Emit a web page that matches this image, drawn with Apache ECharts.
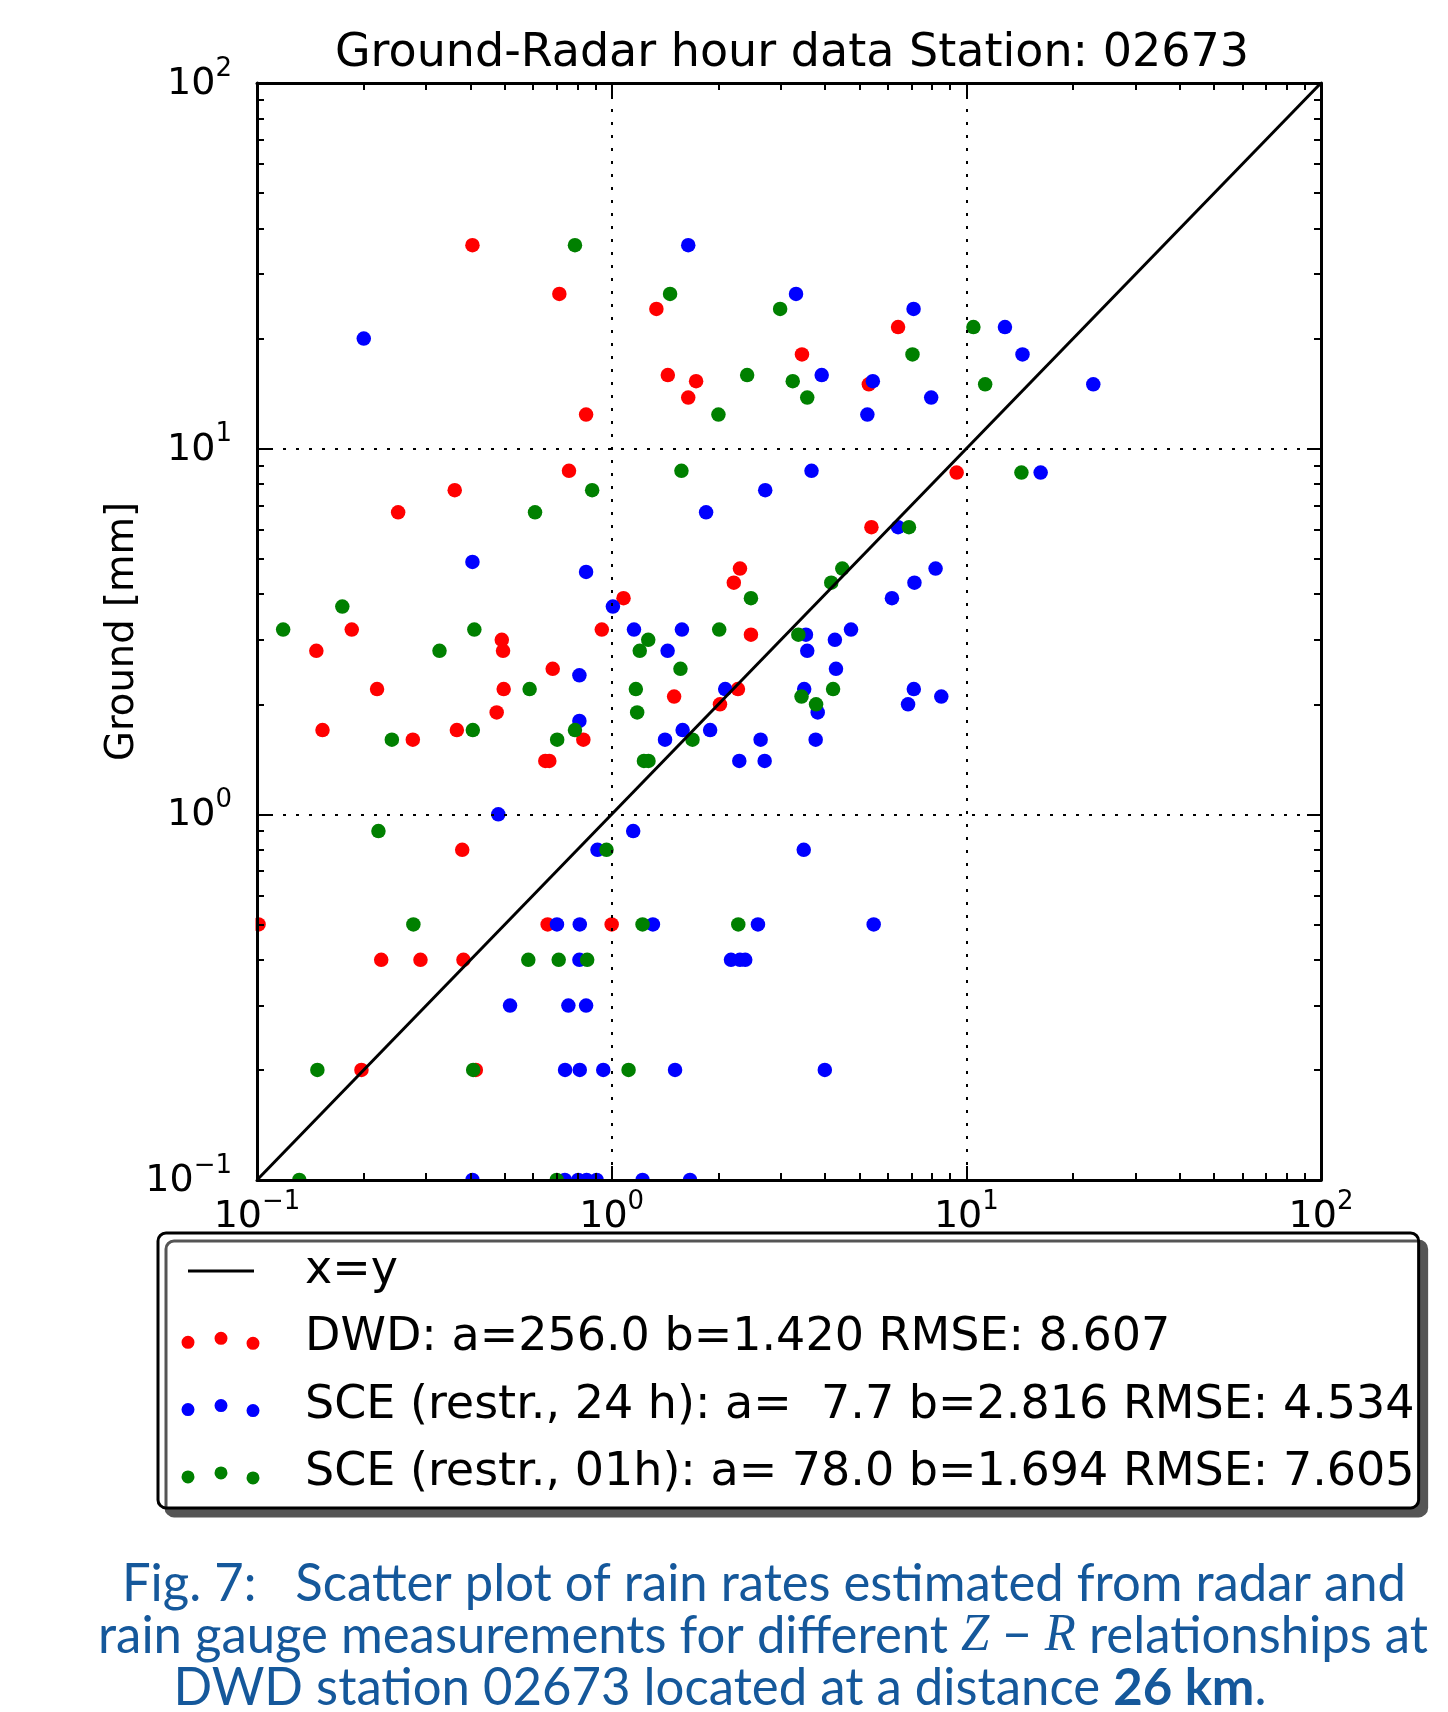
<!DOCTYPE html>
<html>
<head>
<meta charset="utf-8">
<script src="https://cdn.jsdelivr.net/npm/echarts@6/dist/echarts.min.js"></script>
<style>
html,body{margin:0;padding:0;background:#fff;}
#chart{width:1448px;height:1712px;}
</style>
</head>
<body>
<div id="chart"></div>
<script>
// ---------------- data ----------------
const titleText = 'Ground-Radar hour data Station: 02673';
const yAxisName = 'Ground [mm]';
const axisMin = 0.1;
const axisMax = 100;
const minorTickValues = [0.2,0.3,0.4,0.5,0.6,0.7,0.8,0.9,2,3,4,5,6,7,8,9,20,30,40,50,60,70,80,90];

const legendNames = [
  'x=y',
  'DWD: a=256.0 b=1.420 RMSE: 8.607',
  'SCE (restr., 24 h): a=  7.7 b=2.816 RMSE: 4.534',
  'SCE (restr., 01h): a= 78.0 b=1.694 RMSE: 7.605'
];

const xyLine = [0.1, 100];

const dwdX = [0.405,0.712,1.337,6.42,3.44,1.44,1.73,5.31,1.644,0.847,0.758,9.39,0.361,0.250,5.40,2.30,2.21,1.08,0.185,0.938,2.47,0.490,0.494,0.147,0.682,0.218,0.496,2.27,1.50,2.02,0.474,0.153,0.366,0.275,0.832,0.650,0.667,0.379,0.101,0.660,1.00,0.224,0.289,0.382,0.197,0.414];
const dwdY = [36.0,26.5,24.1,21.5,18.1,15.9,15.3,15.0,13.8,12.4,8.7,8.6,7.7,6.7,6.1,4.7,4.3,3.9,3.2,3.2,3.1,3.0,2.8,2.8,2.5,2.2,2.2,2.2,2.1,2.0,1.9,1.7,1.7,1.6,1.6,1.4,1.4,0.8,0.5,0.5,0.5,0.4,0.4,0.4,0.2,0.2];

const sce24X = [1.644,3.31,7.10,0.200,12.85,14.4,3.91,5.45,22.8,7.96,5.26,3.66,16.2,2.71,1.846,6.42,0.405,0.847,8.19,7.14,6.17,1.008,1.156,1.578,4.73,3.53,4.26,1.438,3.56,0.811,4.29,2.09,3.49,7.11,8.50,6.85,3.81,0.811,1.585,1.895,1.414,2.63,3.76,2.29,2.70,0.479,1.15,0.912,3.48,0.701,0.813,1.307,2.585,5.48,0.811,2.17,2.30,2.38,0.517,0.755,0.847,0.739,0.813,0.947,1.509,3.99,0.405,0.738,0.805,0.850,0.907,1.222,1.663];
const sce24Y = [36.0,26.5,24.1,20.0,21.5,18.1,15.9,15.3,15.0,13.8,12.4,8.7,8.6,7.7,6.7,6.1,4.9,4.6,4.7,4.3,3.9,3.7,3.2,3.2,3.2,3.1,3.0,2.8,2.8,2.4,2.5,2.2,2.2,2.2,2.1,2.0,1.9,1.8,1.7,1.7,1.6,1.6,1.6,1.4,1.4,1.0,0.9,0.8,0.8,0.5,0.5,0.5,0.5,0.5,0.4,0.4,0.4,0.4,0.3,0.3,0.3,0.2,0.2,0.2,0.2,0.2,0.1,0.1,0.1,0.1,0.1,0.1,0.1];

const sce01X = [0.788,1.461,2.985,10.47,7.05,2.41,3.24,11.3,3.56,2.00,1.573,14.3,0.881,0.608,6.89,4.47,4.16,2.47,0.174,0.1185,0.410,2.01,3.36,1.268,0.327,1.20,1.563,0.587,1.17,4.21,3.43,3.77,1.18,0.406,0.788,0.240,0.702,1.69,1.233,1.27,0.220,0.967,0.276,1.222,2.275,0.582,0.709,0.853,0.148,0.407,1.116,0.1316,0.700];
const sce01Y = [36.0,26.5,24.1,21.5,18.1,15.9,15.3,15.0,13.8,12.4,8.7,8.6,7.7,6.7,6.1,4.7,4.3,3.9,3.7,3.2,3.2,3.2,3.1,3.0,2.8,2.8,2.5,2.2,2.2,2.2,2.1,2.0,1.9,1.7,1.7,1.6,1.6,1.6,1.4,1.4,0.9,0.8,0.5,0.5,0.5,0.4,0.4,0.4,0.2,0.2,0.2,0.1,0.1];

const captionLines = [
  [['Fig. 7:   Scatter plot of rain rates estimated from radar and', 'n']],
  [['rain gauge measurements for different ', 'n'], ['Z', 'i'], [' \u2212 ', 'n'], ['R', 'i'], [' relationships at', 'n']],
  [['DWD station 02673 located at a distance ', 'n'], ['26 km', 'b'], ['.', 'n']]
];

// ---------------- layout / style ----------------
const FONT = 'DejaVu Sans';
const capFamily = 'Lato';
const capSize = 52;
const capColor = '#15589b';
const capTargetW = [1284, 1330, 1093];
const capCenterX = [764, 763, 720];
const capMidY = [1584, 1636, 1688];

function zip(a, b) { return a.map((v, i) => [v, b[i]]); }

function powLabel(v) {
  const e = Math.round(Math.log10(v));
  return '{b|10}{s|' + (e < 0 ? '\u2212' + (-e) : String(e)) + '}';
}
const labelRich = {
  b: { fontFamily: FONT, fontSize: 38, lineHeight: 40, color: '#000', verticalAlign: 'bottom' },
  s: { fontFamily: FONT, fontSize: 26, lineHeight: 12, height: 12, color: '#000', verticalAlign: 'top' }
};

const majorTick = { show: true, inside: true, length: 14, lineStyle: { color: '#000', width: 2 } };
const minorTick = { show: true, inside: true, length: 7, customValues: minorTickValues, lineStyle: { color: '#000', width: 2 } };
const axisLineStyle = { show: true, onZero: false, lineStyle: { color: '#000', width: 3 } };
const gridDots = { show: true, lineStyle: { color: '#000', width: 2, type: [3, 10] } };

function makeAxes(mainPos, otherPos, isY) {
  const base = { type: 'log', logBase: 10, min: axisMin, max: axisMax, z: 100 };
  const main = Object.assign({}, base, {
    position: mainPos,
    axisLine: axisLineStyle,
    axisTick: majorTick,
    axisLabel: {
      show: true, formatter: powLabel, rich: labelRich,
      margin: isY ? 25 : 16, showMinLabel: true, showMaxLabel: true
    },
    splitLine: gridDots,
    minorTick: { show: false }
  });
  if (isY) {
    Object.assign(main, {
      name: yAxisName, nameLocation: 'middle', nameRotate: 90, nameGap: 115, nameMoveOverlap: false,
      nameTextStyle: { fontFamily: FONT, fontSize: 38.5, color: '#000' }
    });
  }
  const mainMinor = Object.assign({}, base, {
    position: mainPos, axisLine: { show: false }, axisTick: minorTick,
    axisLabel: { show: false }, splitLine: { show: false }
  });
  const opp = Object.assign({}, base, {
    position: otherPos, axisLine: axisLineStyle, axisTick: majorTick,
    axisLabel: { show: false }, splitLine: { show: false }
  });
  const oppMinor = Object.assign({}, base, {
    position: otherPos, axisLine: { show: false }, axisTick: minorTick,
    axisLabel: { show: false }, splitLine: { show: false }
  });
  return [main, mainMinor, opp, oppMinor];
}

// legend icons (paths sized in pixels; invisible move-to points fix the box)
const iconBox = 'M0,0M119,24';
const lineIcon = 'path://' + iconBox + 'M7,10.5h66v3h-66z';
function dot(cx, cy, r) {
  return 'M' + (cx - r) + ',' + cy + 'a' + r + ',' + r + ' 0 1,0 ' + (2 * r) + ',0a' + r + ',' + r + ' 0 1,0 ' + (-2 * r) + ',0z';
}
const dotsIcon = 'path://' + iconBox + dot(7, 16, 6.5) + dot(40, 12, 6.5) + dot(72, 17, 6.5);

// caption lines (graphic texts scaled to the reference widths)
const mctx = document.createElement('canvas').getContext('2d');
const partFont = {
  n: capSize + 'px ' + capFamily,
  i: 'italic ' + capSize + 'px "Liberation Serif"',
  b: 'bold ' + capSize + 'px ' + capFamily
};
function lineWidth(parts) {
  let w = 0;
  parts.forEach(p => { mctx.font = partFont[p[1]]; w += mctx.measureText(p[0]).width; });
  return w;
}
function richString(parts) {
  return parts.map(p => p[1] === 'n' ? p[0] : '{' + p[1] + '|' + p[0] + '}').join('');
}
const captionGraphics = captionLines.map((parts, k) => {
  const w = lineWidth(parts);
  return {
    type: 'text', x: capCenterX[k], y: capMidY[k], scaleX: capTargetW[k] / w, z: 60, silent: true,
    style: {
      text: richString(parts), fontSize: capSize, fontFamily: capFamily, fill: capColor,
      align: 'center', textAlign: 'center', verticalAlign: 'middle',
      rich: {
        i: { fontStyle: 'italic', fontSize: capSize, fontFamily: 'Liberation Serif', fill: capColor, color: capColor },
        b: { fontWeight: 'bold', fontSize: capSize, fontFamily: capFamily, fill: capColor, color: capColor }
      }
    }
  };
});

const chart = echarts.init(document.getElementById('chart'), null, { renderer: 'canvas' });
chart.setOption({
  animation: false,
  backgroundColor: '#fff',
  title: {
    text: titleText, left: 787, top: 26, textAlign: 'center',
    textStyle: { fontFamily: FONT, fontSize: 46, fontWeight: 'normal', color: '#000' }
  },
  grid: { left: 257, top: 83, width: 1064, height: 1097, containLabel: false, outerBoundsMode: 'none' },
  xAxis: makeAxes('bottom', 'top', false),
  yAxis: makeAxes('left', 'right', true),
  legend: {
    orient: 'vertical', left: 158, top: 1233, padding: [13, 4, 10, 23],
    itemWidth: 119, itemHeight: 24, itemGap: 17.3,
    backgroundColor: '#fff', borderColor: '#000', borderWidth: 3, borderRadius: 8,
    shadowColor: '#555', shadowBlur: 0, shadowOffsetX: 8, shadowOffsetY: 8,
    selectedMode: false,
    textStyle: { fontFamily: FONT, fontSize: 46, lineHeight: 50, color: '#000' },
    data: [
      { name: legendNames[0], icon: lineIcon, itemStyle: { color: '#000', borderWidth: 0 } },
      { name: legendNames[1], icon: dotsIcon, itemStyle: { borderWidth: 0, opacity: 1 } },
      { name: legendNames[2], icon: dotsIcon, itemStyle: { borderWidth: 0, opacity: 1 } },
      { name: legendNames[3], icon: dotsIcon, itemStyle: { borderWidth: 0, opacity: 1 } }
    ]
  },
  graphic: [
    { type: 'rect', z: 50, silent: true, shape: { x: 245, y: 1181.5, width: 1090, height: 8 }, style: { fill: '#fff' } },
    { type: 'rect', z: 50, silent: true, shape: { x: 243, y: 75, width: 12.5, height: 1115 }, style: { fill: '#fff' } }
  ].concat(captionGraphics),
  series: [
    { type: 'scatter', name: legendNames[1], data: zip(dwdX, dwdY), symbol: 'circle', symbolSize: 14.5,
      itemStyle: { color: '#ff0000', opacity: 1 }, clip: false, silent: true, z: 2 },
    { type: 'scatter', name: legendNames[2], data: zip(sce24X, sce24Y), symbol: 'circle', symbolSize: 14.5,
      itemStyle: { color: '#0000ff', opacity: 1 }, clip: false, silent: true, z: 2 },
    { type: 'scatter', name: legendNames[3], data: zip(sce01X, sce01Y), symbol: 'circle', symbolSize: 14.5,
      itemStyle: { color: '#008000', opacity: 1 }, clip: false, silent: true, z: 2 },
    { type: 'line', name: legendNames[0], data: zip(xyLine, xyLine), symbol: 'none',
      lineStyle: { color: '#000', width: 3 }, itemStyle: { color: '#000' }, clip: false, silent: true, z: 3 }
  ]
});
</script>
</body>
</html>
